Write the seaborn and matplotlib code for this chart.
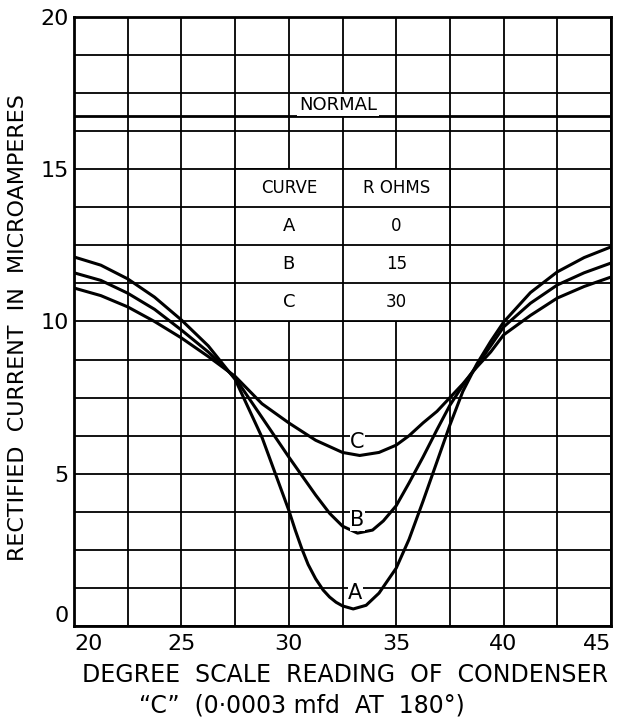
import numpy as np
import pandas as pd
import seaborn as sns
import matplotlib.pyplot as plt
from matplotlib.patches import Rectangle

# readings: condenser scale (degrees) vs rectified current (uA)
x_a = [20, 21.25, 22.5, 23.75, 25, 26.25, 27.5, 28.75, 30, 30.3, 30.6, 30.9, 31.25, 31.6, 31.9,
       32.2, 32.5, 33.0, 33.6, 34.2, 35, 35.6, 36.25, 36.9, 37.5, 38.1, 38.75, 39.4, 40,
       41.25, 42.5, 43.75, 45]
y_a = [12.12, 11.85, 11.4, 10.8, 10.05, 9.2, 8.1, 6.2, 3.8, 3.15, 2.55, 2.02, 1.55, 1.18, 0.95,
       0.78, 0.66, 0.56, 0.68, 1.08, 1.9, 2.85, 4.1, 5.4, 6.6, 7.7, 8.6, 9.35, 9.98,
       10.95, 11.63, 12.1, 12.45]

x_b = [20, 21.25, 22.5, 23.75, 25, 26.25, 27.5, 28.75, 30, 30.6, 31.25, 31.9, 32.5, 33.2,
       33.9, 34.4, 35, 35.6, 36.25, 36.9, 37.5, 38.1, 38.75, 39.4, 40, 41.25, 42.5, 43.75, 45]
y_b = [11.6, 11.35, 10.93, 10.4, 9.72, 9.0, 8.15, 6.85, 5.55, 4.95, 4.3, 3.7, 3.28, 3.05,
       3.15, 3.45, 3.95, 4.7, 5.55, 6.45, 7.25, 7.9, 8.55, 9.2, 9.82, 10.6, 11.2, 11.6, 11.92]

x_c = [20, 21.25, 22.5, 23.75, 25, 26.25, 27.5, 28.75, 30, 31.25, 32.5, 33.3, 34.2,
       35, 35.6, 36.25, 36.9, 37.5, 38.1, 38.75, 39.4, 40, 41.25, 42.5, 43.75, 45]
y_c = [11.1, 10.85, 10.48, 10.0, 9.46, 8.85, 8.2, 7.3, 6.67, 6.1, 5.7, 5.6, 5.7,
       5.94, 6.25, 6.67, 7.05, 7.5, 7.95, 8.5, 9.0, 9.56, 10.2, 10.77, 11.15, 11.46]

normal_level = 16.75
curve_names = ["A", "B", "C"]
r_ohms = ["0", "15", "30"]
label_pos = {"A": (33.1, 1.08), "B": (33.2, 3.48), "C": (33.2, 6.05)}

df = pd.concat([
    pd.DataFrame({"deg": x_a, "current": y_a, "curve": "A"}),
    pd.DataFrame({"deg": x_b, "current": y_b, "curve": "B"}),
    pd.DataFrame({"deg": x_c, "current": y_c, "curve": "C"}),
])

sns.set_style("white")
plt.rcParams["font.family"] = ["DejaVu Sans"]
plt.rcParams.update({"text.color": "black", "axes.labelcolor": "black",
                     "xtick.color": "black", "ytick.color": "black"})

fig = plt.figure(figsize=(6.37, 7.24), dpi=100)
ax = fig.add_axes([74 / 637, 1 - 626 / 724, 537 / 637, 609 / 724])

sns.lineplot(data=df, x="deg", y="current", hue="curve", palette=["black"] * 3,
             linewidth=2.2, legend=False, ax=ax, zorder=3, sort=False)

ax.axhline(normal_level, color="black", lw=2.0, zorder=2)
ax.text(32.3, 17.12, "NORMAL", ha="center", va="center", fontsize=13, zorder=4,
        bbox=dict(facecolor="white", edgecolor="none", pad=1.5))

# grid
ax.set_xlim(20, 45)
ax.set_ylim(0, 20)
ax.set_xticks(np.arange(20, 46, 5))
ax.set_yticks(np.arange(0, 21, 5))
ax.set_xticks(np.arange(20, 45.1, 2.5), minor=True)
ax.set_yticks(np.arange(0, 20.1, 1.25), minor=True)
ax.set_axisbelow(True)
ax.grid(which="both", color="black", lw=1.3)
ax.tick_params(which="both", length=0)
ax.tick_params(axis="x", labelsize=16, pad=6)
ax.tick_params(axis="y", labelsize=16, pad=4)
for s in ax.spines.values():
    s.set_color("black")
    s.set_linewidth(2)
xl = ax.get_xticklabels()
xl[0].set_ha("left")
xl[-1].set_ha("right")
ax.get_yticklabels()[0].set_va("bottom")

# table
ax.add_patch(Rectangle((27.5, 10), 10, 5, facecolor="white", edgecolor="none", zorder=1.5))
ax.hlines([10, 11.25, 12.5, 13.75, 15], 27.5, 37.5, color="black", lw=1.3, zorder=2)
ax.vlines([27.5, 32.5, 37.5], 10, 15, color="black", lw=1.3, zorder=2)
ax.text(30, 14.375, "CURVE", ha="center", va="center", fontsize=12, zorder=4)
ax.text(35, 14.375, "R OHMS", ha="center", va="center", fontsize=12, zorder=4)
for i, (n, r) in enumerate(zip(curve_names, r_ohms)):
    yy = 13.125 - 1.25 * i
    ax.text(30, yy, n, ha="center", va="center", fontsize=13, zorder=4)
    ax.text(35, yy, r, ha="center", va="center", fontsize=12, zorder=4)

for n in curve_names:
    ax.text(*label_pos[n], n, ha="center", va="center", fontsize=15, zorder=4,
            bbox=dict(facecolor="white", edgecolor="none", pad=0.5))

ax.set_ylabel("RECTIFIED  CURRENT  IN  MICROAMPERES", fontsize=16, va="center")
ax.yaxis.set_label_coords(-0.104, 0.49)
ax.set_xlabel("DEGREE  SCALE  READING  OF  CONDENSER", fontsize=17, va="center")
ax.xaxis.set_label_coords(0.505, -0.08)
fig.text(302 / 637, 1 - 705 / 724, "\u201cC\u201d  (0\u00b70003 mfd  AT  180\u00b0)",
         ha="center", va="center", fontsize=17)

fig.savefig("out.png", dpi=100)
